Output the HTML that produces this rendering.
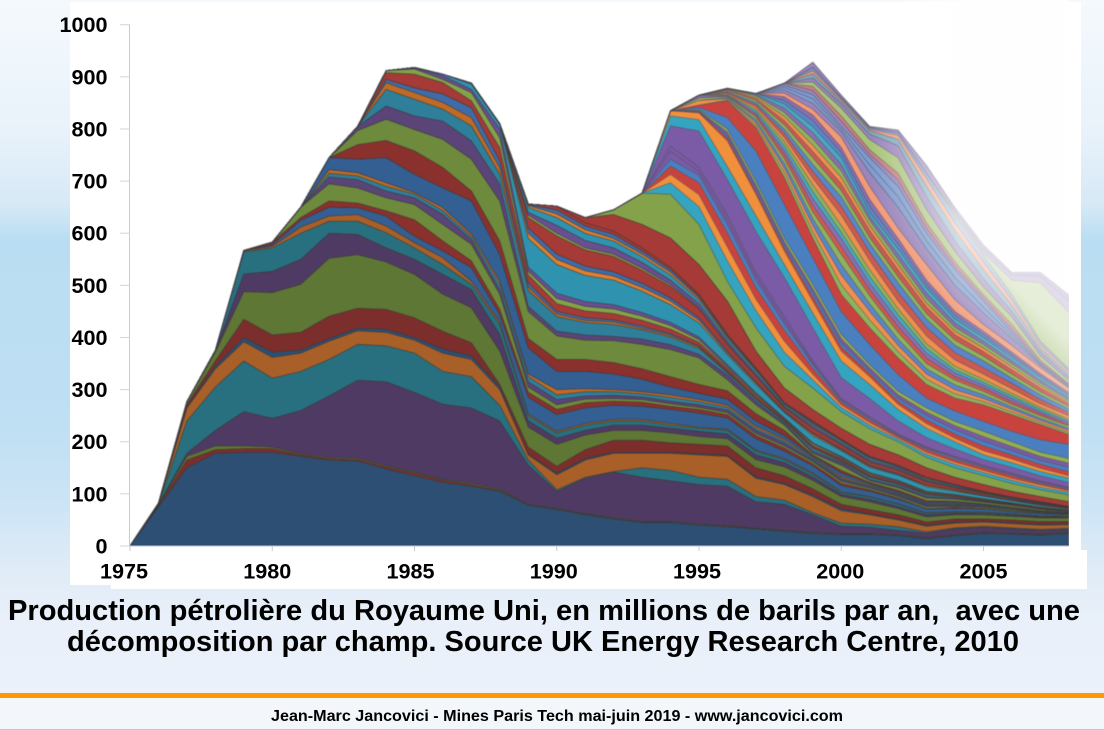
<!DOCTYPE html>
<html lang="fr">
<head>
<meta charset="utf-8">
<title>Production pétrolière du Royaume Uni</title>
<style>
html,body{margin:0;padding:0;background:#edf2fa;}
#slide{position:relative;width:1104px;height:730px;overflow:hidden;
background:linear-gradient(180deg,#f4f9fd 0,#e9f2fa 130px,#d6e9f6 205px,#b9ddf2 240px,#bfdff3 420px,#cbe4f5 500px,#dfebf7 565px,#e9f0f9 620px,#edf2fa 730px);}
svg{position:absolute;left:0;top:0;}
text{font-family:"Liberation Sans",Arial,sans-serif;font-weight:bold;fill:#000;}
</style>
</head>
<body>
<div id="slide">
<svg id="chart" width="1104" height="730" viewBox="0 0 1104 730" xmlns="http://www.w3.org/2000/svg">
<defs>
<linearGradient id="fade" gradientUnits="userSpaceOnUse" x1="1000" y1="370" x2="1050" y2="320">
<stop offset="0" stop-color="#fff" stop-opacity="0"/>
<stop offset="1" stop-color="#fff" stop-opacity="0.72"/>
</linearGradient>
<linearGradient id="fadeMaskGrad" gradientUnits="userSpaceOnUse" x1="870" y1="0" x2="960" y2="0">
<stop offset="0" stop-color="#000"/>
<stop offset="1" stop-color="#fff"/>
</linearGradient>
<mask id="fadeMask" maskUnits="userSpaceOnUse" x="125" y="0" width="944" height="546">
<rect x="125" y="0" width="944" height="546" fill="url(#fadeMaskGrad)"/>
</mask>
<clipPath id="plotClip"><rect x="125" y="0" width="944" height="546"/></clipPath>
</defs>
<rect x="70" y="2" width="1011" height="583" fill="#fff"/>
<rect x="1081" y="550" width="6" height="39" fill="#fff"/>
<rect x="111" y="585" width="976" height="4" fill="#fff"/>
<g id="bands" clip-path="url(#plotClip)" style="filter:blur(0.55px)"></g>
<rect x="125" y="0" width="944" height="546" fill="url(#fade)" mask="url(#fadeMask)"/>
<g id="axes"></g>
<text x="8" y="620" font-size="29" textLength="1072" lengthAdjust="spacingAndGlyphs" xml:space="preserve">Production pétrolière du Royaume Uni, en millions de barils par an,  avec une</text>
<text x="67" y="651" font-size="29" textLength="952" lengthAdjust="spacingAndGlyphs">décomposition par champ. Source UK Energy Research Centre, 2010</text>
<rect x="0" y="698" width="1104" height="31" fill="#f3f6fb"/>
<rect x="0" y="693" width="1104" height="5" fill="#ff9900"/>
<rect x="0" y="729" width="1104" height="1" fill="#c4c6cc"/>
<text x="271" y="721" font-size="16" textLength="572" lengthAdjust="spacingAndGlyphs">Jean-Marc Jancovici - Mines Paris Tech mai-juin 2019 - www.jancovici.com</text>
</svg>
</div>
<script>
// Category axis
const years=[1975,1976,1977,1978,1979,1980,1981,1982,1983,1984,1985,1986,1987,1988,1989,1990,1991,1992,1993,1994,1995,1996,1997,1998,1999,2000,2001,2002,2003,2004,2005,2006,2007,2008];
const xTickLabels=[1975,1980,1985,1990,1995,2000,2005];
const yTickLabels=[0,100,200,300,400,500,600,700,800,900,1000];

// Top of each field's band in the stack (millions of barrels).
// Every list ends at 2008; a shorter list means the field started later.
const f01=[0,75,150,178,180,180,172,165,163,148,135,122,115,105,78,70,60,52,45,45,40,37,33,28,24,22,22,20,14,20,24,23,21,24];
const f02=[0,78,165,185,187,187,175,168,166,152,140,126,118,107,79,71,61,53,46,46,41,38,34,29,25,23,23,21,15,21,25,24,22,25];
const f03=[0,79,172,192,192,190,177,170,168,154,142,128,120,109,80,72,62,54,47,47,42,39,35,30,26,24,24,22,16,22,26,25,23,26];
const f04=[0,80,178,222,258,245,260,288,318,315,295,272,265,240,155,105,130,142,132,125,118,115,85,80,60,38,36,30,25,33,36,33,30,32];
const f05=[0,80,240,305,355,322,335,358,387,384,370,335,325,270,165,108,132,143,150,145,132,128,95,88,64,44,42,37,27,35,38,35,32,34];
const f06=[0,80,265,340,392,362,370,393,413,410,395,370,358,300,175,137,165,178,178,178,175,172,130,118,95,68,60,50,38,44,46,43,40,41];
const f07=[0,81,267,345,400,372,376,398,418,416,400,378,365,305,177,140,168,180,180,180,177,174,133,120,98,72,62,52,40,46,48,45,42,43];
const f08=[0,81,272,355,435,405,410,441,456,454,438,412,390,310,190,153,185,203,203,198,195,192,150,135,110,80,70,60,46,52,52,50,47,47];
const f09=[0,82,277,372,488,486,502,552,559,545,521,483,457,374,228,195,213,222,222,217,210,206,166,152,126,95,85,72,56,60,60,57,54,54];
const f10=[0,82,277,375,522,527,550,600,598,572,550,521,492,406,240,207,222,232,232,226,220,215,175,160,133,99,90,76,60,63,62,59,56,55];
const f11=[564,572,600,623,623,601,572,540,502,425,250,217,232,240,240,232,226,222,182,166,138,102,94,80,63,65,64,61,57,56];
const f12=[566,575,612,633,636,614,582,553,508,430,253,220,235,243,243,235,228,224,184,168,140,104,95,81,64,66,65,62,58,57];
const f13=[567,578,625,650,649,633,594,566,534,444,285,252,265,270,268,262,255,246,206,182,154,116,105,90,71,72,71,66,62,60];
const f14=[583,630,662,658,643,626,585,547,454,295,262,275,278,276,268,262,252,212,188,158,120,108,92,72,74,72,67,63,61];
const f15=[650,695,687,668,655,617,579,483,305,271,282,283,281,273,266,256,216,192,162,124,111,95,75,76,74,69,64,62];
const f16=[708,703,681,668,636,588,492,315,281,288,289,286,278,271,261,222,198,165,128,114,98,78,78,76,70,65,62];
const f17=[715,710,690,675,643,593,502,325,290,296,296,292,285,277,266,226,202,168,130,116,100,80,80,77,71,66,63];
const f18=[722,716,697,678,649,598,508,330,300,302,300,296,290,281,270,230,205,170,133,118,101,81,81,78,72,66,63];
const f19=[745,742,745,713,687,662,559,380,335,335,330,320,305,293,282,240,212,173,140,120,104,84,84,80,74,67,64];
const f20=[770,778,758,726,681,585,398,358,358,352,340,325,310,298,254,222,175,145,122,107,87,86,81,75,68,65];
const f21=[797,819,799,780,742,662,450,403,395,394,387,377,361,319,271,232,178,155,125,112,92,90,84,78,70,66];
const f22=[805,844,825,815,777,694,460,412,405,402,397,386,368,328,278,235,182,160,128,115,95,92,86,80,72,68];
const f23=[876,857,838,806,713,490,440,429,425,415,401,379,332,282,238,187,162,132,118,98,94,87,80,72,68];
const f24=[889,870,851,822,726,497,445,433,430,418,404,382,334,283,239,189,164,133,119,99,95,88,81,73,68];
const f25=[895,879,867,841,739,505,450,438,434,422,407,384,336,284,240,190,165,134,120,100,95,88,81,73,68];
const f26=[908,905,889,854,764,520,465,451,446,433,416,391,341,289,243,193,168,137,123,102,97,89,82,74,68];
const f27=[912,915,895,870,783,527,475,460,455,441,423,396,344,292,244,196,170,139,124,104,98,90,83,75,69];
const f28=[917,902,876,800,535,485,469,463,448,429,401,348,294,246,198,172,141,126,105,99,91,83,75,69];
const f29=[918,905,886,808,590,540,519,510,489,463,428,367,310,256,212,183,151,136,114,105,96,87,78,71];
const f30=[888,810,600,550,528,518,496,470,433,370,313,257,215,185,153,137,116,107,96,87,79,72];
const f31=[610,560,537,526,504,476,438,374,316,259,217,187,155,139,117,108,97,88,80,72];
const f32=[630,595,568,556,529,498,455,386,326,265,226,194,161,145,123,112,100,90,82,74];
const f33=[635,600,572,560,533,501,457,388,327,266,227,195,162,146,124,112,101,91,82,74];
const f34=[640,615,586,572,544,510,465,393,331,268,231,198,165,149,126,114,102,92,83,75];
const f35=[650,630,600,585,555,520,472,398,336,271,234,201,168,151,128,116,103,93,84,75];
const f36=[653,637,607,590,560,525,476,401,338,272,236,202,169,152,130,116,104,93,84,75];
const f37=[655,645,614,598,566,530,479,404,340,274,238,203,171,154,131,117,104,94,85,76];
const f38=[656,652,620,604,572,534,483,406,342,275,240,205,172,155,132,118,105,94,85,76];
const bigRed=[630,636,617,591,540,470,374,303,262,226,195,175,150,132,118,105,95,85];
const bigGreen=[645,677,675,617,508,419,345,303,258,225,200,170,150,135,120,108,98];
const stripeTeal=[697,651,547,452,372,319,266,232,205,176,157,141,126,113,103];
const stripeOrange=[713,674,574,474,393,330,271,237,208,180,161,145,130,117,106];
const stripeRed=[729,697,601,496,414,341,276,242,211,185,166,150,135,120,109];
const stripeBlue=[742,711,617,510,426,348,279,245,213,187,169,152,137,122,111];
const stripePurple=[758,718,626,518,433,351,281,247,214,189,171,154,139,124,112];
const stripeDark=[767,726,635,525,440,355,283,248,215,190,172,155,140,125,113];
const bigPurple=[806,796,703,604,515,419,323,283,240,208,186,166,151,135,122];
const brightTeal=[825,818,728,634,540,447,355,310,262,226,200,175,160,143,130];
const thinOrange=[835,831,777,675,566,470,374,325,272,235,207,183,167,149,135];
const s1=[833,783,681,572,478,382,331,278,242,215,192,175,157,143];
const s2=[834,788,687,578,486,390,336,284,250,223,201,183,164,151];
const s3=[836,794,693,584,494,398,342,290,257,231,210,191,172,159];
const lowGreen=[838,800,700,591,502,406,348,297,265,239,220,200,180,168];
const wideBlue=[842,822,758,655,553,450,387,329,284,259,239,220,204,195];
const wideRed=[846,854,803,707,591,483,419,361,310,284,271,252,233,214];
const mA=[856,808,716,603,501,434,373,320,292,277,257,237,218];
const u01=[855,858,813,725,615,520,450,385,330,300,283,262,241,222];
const mB=[860,818,734,628,540,465,397,340,309,290,267,245,226];
const u02=[860,862,823,743,641,560,480,410,350,318,297,272,250,230];
const mC=[863,827,752,654,575,492,421,360,325,303,277,254,233];
const u03=[865,864,831,760,667,590,505,433,370,332,309,283,258,237];
const mD=[865,835,768,680,602,517,444,379,338,314,288,262,240];
const u04=[866,839,776,693,615,530,455,388,345,320,293,266,243];
const u05=[868,843,784,706,635,548,470,403,357,330,302,273,250];
const mE=[870,847,792,719,652,564,487,419,371,342,312,281,256];
const u06=[872,851,800,732,670,580,505,435,385,355,322,290,263];
const mF=[874,855,808,745,682,592,517,446,395,364,330,296,268];
const u07=[876,858,816,757,695,605,530,458,405,373,338,303,273];
const mG=[877,861,824,769,707,615,540,466,412,380,344,308,276];
const u08=[878,864,832,781,720,625,550,475,420,387,350,313,280];
const mH=[866,840,793,732,632,560,485,428,393,356,318,284];
const u09=[868,848,805,745,640,570,495,436,400,362,323,288];
const mI=[855,816,755,652,580,502,443,406,367,327,291];
const u10=[862,827,765,665,590,510,450,412,372,331,295];
const u11=[869,838,785,690,610,540,472,425,385,342,303];
const mJ=[875,849,795,717,650,570,500,447,398,346,305];
const mK=[880,858,800,731,670,585,515,458,404,348,306];
const u12=[884,866,805,745,690,600,530,470,410,350,308];
const mL=[888,874,815,752,702,610,537,476,417,353,310];
const u13=[882,825,760,715,620,545,482,425,357,312];
const u14=[890,840,780,745,645,565,497,440,365,318];
const u15=[898,848,790,768,670,585,512,450,373,324];
const u16=[906,853,797,780,690,605,530,462,380,330];
const u17=[912,857,800,788,705,620,545,472,387,335];
const u18=[918,860,803,793,715,635,558,482,393,340];
const paleGreen=[640,562,510,505,448];
const u19=[928,865,805,798,730,645,570,520,518,470];
const u20=[650,578,525,525,482];

const fields=[f01,f02,f03,f04,f05,f06,f07,f08,f09,f10,f11,f12,f13,f14,f15,f16,f17,f18,f19,f20,f21,f22,f23,f24,f25,f26,f27,f28,f29,f30,f31,f32,f33,f34,f35,f36,f37,f38,bigRed,bigGreen,stripeTeal,stripeOrange,stripeRed,stripeBlue,stripePurple,stripeDark,bigPurple,brightTeal,thinOrange,s1,s2,s3,lowGreen,wideBlue,wideRed,mA,u01,mB,u02,mC,u03,mD,u04,u05,mE,u06,mF,u07,mG,u08,mH,u09,mI,u10,u11,mJ,mK,u12,mL,u13,u14,u15,u16,u17,u18,paleGreen,u19,u20];

// Hue of each band: b blue, r red, g green, p purple, t teal, o orange
const fieldHues="brgptobrgptobrgptobrgptobrgptobrgptobr"+"rg"+"torbpp"+"pto"+"rbp"+"gbr"+"gobgrptgorbgrogptbp"+"opbbprgptobgpp";
const tierEnds=[12,24,40,55,74,88];
const palette=[
 {b:"#2c4f73",r:"#7c2e2c",g:"#5e7735",p:"#4f3a63",t:"#28707f",o:"#a95f28"},
 {b:"#335f92",r:"#8a302d",g:"#6e8a3c",p:"#5a4478",t:"#2f7f9a",o:"#c06a26"},
 {b:"#3f6ca8",r:"#a53a36",g:"#84a24a",p:"#6a4e92",t:"#2f93b0",o:"#e07f2e"},
 {b:"#4a7fc0",r:"#c9433e",g:"#93b050",p:"#7b5aa6",t:"#35a4c0",o:"#f08f3c"},
 {b:"#5a86c8",r:"#cc5a50",g:"#8fb35a",p:"#8a6fb0",t:"#4aa8c0",o:"#ee8f50"},
 {b:"#7f9ccf",r:"#c98080",g:"#a9c47a",p:"#9a85bc",t:"#7fa8c0",o:"#f29a78"}
];

const SVGNS="http://www.w3.org/2000/svg";
function xAxis(year){return 130+(year-1975)*28.45;}
function yAxis(value){return 546-value*0.5213;}
function xLabelPos(year){return xAxis(year)-6+(year-1975)*0.2;}

function fieldValue(list,i){
  const v=list[list.length-(years.length-i)];
  return v===undefined?0:v;
}

function drawBands(){
  const g=document.getElementById('bands');
  let lower=years.map(()=>0);
  fields.forEach(function(list,k){
    const upper=years.map(function(y,i){return Math.max(lower[i],fieldValue(list,i));});
    let d="";
    years.forEach(function(y,i){d+=(i?"L":"M")+xAxis(y).toFixed(1)+" "+yAxis(upper[i]).toFixed(1);});
    for(let i=years.length-1;i>=0;i--){d+="L"+xAxis(years[i]).toFixed(1)+" "+yAxis(lower[i]).toFixed(1);}
    d+="Z";
    let tier=0;
    while(k>=tierEnds[tier])tier++;
    const el=document.createElementNS(SVGNS,'path');
    el.setAttribute('d',d);
    el.setAttribute('fill',palette[tier][fieldHues[k]]);
    el.setAttribute('stroke',tier<3?'rgba(50,50,45,0.55)':'rgba(70,70,80,0.45)');
    el.setAttribute('stroke-width','0.8');
    
    
    g.appendChild(el);
    lower=upper;
  });
}

function drawAxes(){
  const g=document.getElementById('axes');
  const yLine=document.createElementNS(SVGNS,'line');
  yLine.setAttribute('x1',129.5);yLine.setAttribute('x2',129.5);
  yLine.setAttribute('y1',yAxis(1000));yLine.setAttribute('y2',yAxis(0));
  yLine.setAttribute('stroke','#c4ccd6');
  
  
  g.appendChild(yLine);
  const xLine=document.createElementNS(SVGNS,'line');
  xLine.setAttribute('x1',130);xLine.setAttribute('x2',xAxis(2008));
  xLine.setAttribute('y1',yAxis(0));xLine.setAttribute('y2',yAxis(0));
  xLine.setAttribute('stroke','#b8c2ce');
  
  
  g.appendChild(xLine);
  yTickLabels.forEach(function(v){
    const t=document.createElementNS(SVGNS,'line');
    t.setAttribute('x1',120);t.setAttribute('x2',130);
    t.setAttribute('y1',yAxis(v));t.setAttribute('y2',yAxis(v));
    t.setAttribute('stroke','#d0d5dc');
    
    
    g.appendChild(t);
    const l=document.createElementNS(SVGNS,'text');
    l.setAttribute('x',107.5);
    l.setAttribute('y',yAxis(v)+7.5);
    l.setAttribute('font-size','21.6');
    l.setAttribute('text-anchor','end');
    
    
    l.textContent=v;
    g.appendChild(l);
  });
  xTickLabels.forEach(function(y){
    const t=document.createElementNS(SVGNS,'line');
    t.setAttribute('x1',xAxis(y));t.setAttribute('x2',xAxis(y));
    t.setAttribute('y1',546);t.setAttribute('y2',551);
    t.setAttribute('stroke','#c4ccd6');
    
    
    g.appendChild(t);
    const l=document.createElementNS(SVGNS,'text');
    l.setAttribute('x',xLabelPos(y));
    l.setAttribute('y',578.5);
    l.setAttribute('font-size','21.6');
    l.setAttribute('text-anchor','middle');
    
    
    l.textContent=y;
    g.appendChild(l);
  });
}
drawBands();
drawAxes();
</script>
</body>
</html>
